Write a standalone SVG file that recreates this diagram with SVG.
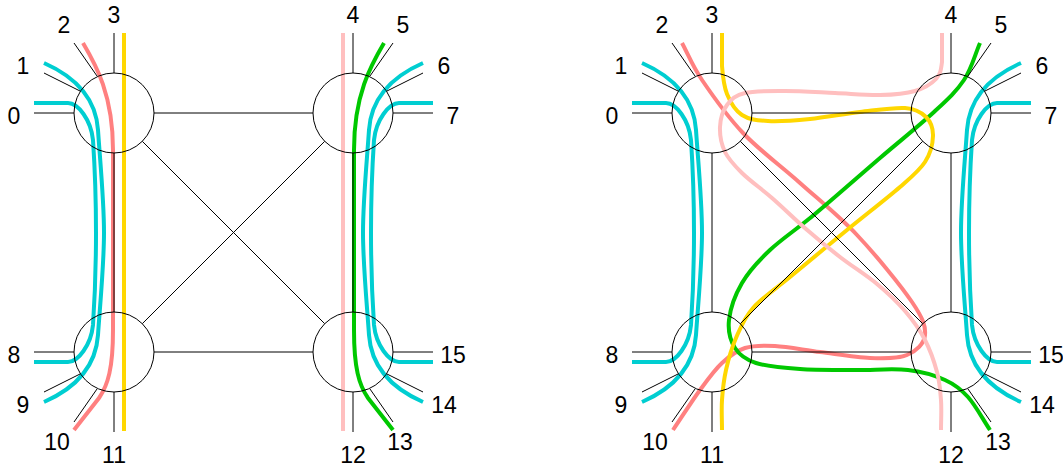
<svg xmlns="http://www.w3.org/2000/svg" width="1063" height="466" viewBox="0 0 1063 466">
<style>
.bg{fill:#fff}
.n circle{fill:none;stroke:#000;stroke-width:1}
.n path,.e{fill:none;stroke:#000;stroke-width:1}
.w{fill:none;stroke-width:4}
.cy{stroke:#00CED1}
.rd{stroke:#FF8080}
.pk{stroke:#FFBFBF}
.yl{stroke:#FFD700}
.gn{stroke:#00C800}
text{font-family:"Liberation Sans",Arial,sans-serif;font-size:23px;text-anchor:middle;fill:#000}
</style>
<defs>
<g id="cyanL">
<path class="w cy" d="M34,103 L68,103 C78,103 91,120 93,140 C95,170 96,200 96,232.5 C96,265 95,295 93,325 C91,345 78,362 68,362 L34,362"/>
<path class="w cy" d="M44,63 C78,78 96,100 98,130 C100,160 104,200 104,232.5 C104,265 100,305 98,335 C96,365 78,387 44,402"/>
<path class="w cy" d="M433,103 L399,103 C389,103 376,120 374,140 C372,170 371,200 371,232.5 C371,265 372,295 374,325 C376,345 389,362 399,362 L433,362"/>
<path class="w cy" d="M423,63 C389,78 371,100 369,130 C367,160 363,200 363,232.5 C363,265 367,305 369,335 C371,365 389,387 423,402"/>
</g>
<path id="edges" class="e" d="M154,113H313M154,352H313M114,153V312M353,153V312M142.3,141.3L324.7,323.7M324.7,141.3L142.3,323.7"/>
</defs>
<rect class="bg" width="1063" height="466"/>
<g id="connectors">
<g id="routes-left">
<use href="#cyanL"/>
<path class="w yl" d="M124,33 L124,431"/>
<path class="w pk" d="M343,33 L343,431"/>
<path class="w rd" d="M83,43 C96,65 113,95 113,150 L113,330 C113,368 108,385 99,398 L74,430"/>
<path class="w gn" d="M384,43 C371,65 354,95 354,150 L354,330 C354,368 359,385 368,398 L393,430"/>
</g>
<g id="routes-right">
<use href="#cyanL" transform="translate(598,0)"/>
<path class="w rd" d="M682,43 C688.7,55.3 691.8,65 702,80 C712.2,95 726.7,115.8 743,133 C759.3,150.2 781,166 800,183 C819,200 838.3,215.2 857,235 C875.7,254.8 900.7,285.3 912,302 C923.3,318.7 925.8,326.2 925,335 C924.2,343.8 916.2,351.2 907,355 C897.8,358.8 884.5,358.5 870,358 C855.5,357.5 835.8,354 820,352 C804.2,350 787.5,346.7 775,346 C762.5,345.3 753.8,345.2 745,348 C736.2,350.8 729.5,356 722,363 C714.5,370 708.2,378.8 700,390 C691.8,401.2 682,416.7 673,430"/>
<path class="w gn" d="M980,43 C974.7,55.3 971.7,68.5 964,80 C956.3,91.5 948,99 934,112 C920,125 899.8,141 880,158 C860.2,175 833.3,198.7 815,214 C796.7,229.3 782.2,238.5 770,250 C757.8,261.5 748.8,271.3 742,283 C735.2,294.7 730.2,309.2 729,320 C727.8,330.8 730.5,340.8 735,348 C739.5,355.2 745.2,359.5 756,363 C766.8,366.5 783.5,367.8 800,369 C816.5,370.2 837,369.8 855,370 C873,370.2 893,368.3 908,370 C923,371.7 935,375.5 945,380 C955,384.5 960.5,388.7 968,397 C975.5,405.3 982.7,419 990,430"/>
<path class="w yl" d="M722,33 C722,44 722,55.8 722,66 C722.8,76.2 723.7,85.8 727,94 C730.3,102.2 735.2,110.5 742,115 C748.8,119.5 756.7,120.3 768,121 C779.3,121.7 794.7,120.5 810,119 C825.3,117.5 844.2,113.8 860,112 C875.8,110.2 894,107.2 905,108 C916,108.8 921.3,112.3 926,117 C930.7,121.7 933.2,128.5 933,136 C932.8,143.5 930.5,153.5 925,162 C919.5,170.5 913,175.7 900,187 C887,198.3 865.3,215 847,230 C828.7,245 805.7,264 790,277 C774.3,290 762,297.8 753,308 C744,318.2 740.5,327.7 736,338 C731.5,348.3 728.3,359.7 726,370 C723.7,380.3 722.7,390 722,400 C721.3,410 722,420 722,430"/>
<path class="w pk" d="M942,33 C942,42.7 942,54 942,62 C941,69.7 940.5,74.2 936,79 C931.5,83.8 924.3,88.3 915,91 C905.7,93.7 893.3,94.7 880,95 C866.7,95.3 850.8,93.7 835,93 C819.2,92.3 800,91 785,91 C770,91 754.7,90.7 745,93 C735.3,95.3 731.2,99.3 727,105 C722.8,110.7 720.3,119.2 720,127 C719.7,134.8 721.3,144.3 725,152 C728.7,159.7 734.2,165.3 742,173 C749.8,180.7 761.3,188.7 772,198 C782.7,207.3 794.7,219.2 806,229 C817.3,238.8 828.2,247.8 840,257 C851.8,266.2 866.2,275 877,284 C887.8,293 897,301.7 905,311 C913,320.3 919.7,329.8 925,340 C930.3,350.2 934.3,362 937,372 C939.7,382 940.3,390.3 941,400 C941.7,409.7 941,420 941,430"/>
</g>
<g id="edges-left"><use href="#edges"/></g>
<g id="edges-right"><use href="#edges" transform="translate(598,0)"/></g>
</g>
<g id="L-A" class="n" transform="translate(114,113)">
<circle r="40"/>
<path d="M-80,0H-40M-70,-40L-34,-22M-40,-70L-17,-37M0,-80V-40"/>
<text x="-100" y="11">0</text><text x="-91" y="-39">1</text><text x="-50" y="-80">2</text><text x="0" y="-90">3</text>
</g>
<g id="L-B" class="n" transform="translate(353,113)">
<circle r="40"/>
<path d="M80,0H40M70,-40L34,-22M40,-70L17,-37M0,-80V-40"/>
<text x="0" y="-90">4</text><text x="50" y="-80">5</text><text x="91" y="-39">6</text><text x="100" y="11">7</text>
</g>
<g id="L-C" class="n" transform="translate(114,352)">
<circle r="40"/>
<path d="M-80,0H-40M-70,40L-34,22M-40,70L-17,37M0,80V40"/>
<text x="-100" y="11">8</text><text x="-91" y="61">9</text><text x="-57" y="98">10</text><text x="0" y="111">11</text>
</g>
<g id="L-D" class="n" transform="translate(353,352)">
<circle r="40"/>
<path d="M80,0H40M70,40L34,22M40,70L17,37M0,80V40"/>
<text x="0" y="111">12</text><text x="47" y="98">13</text><text x="91" y="61">14</text><text x="100" y="11">15</text>
</g>
<g id="R-A" class="n" transform="translate(712,113)">
<circle r="40"/>
<path d="M-80,0H-40M-70,-40L-34,-22M-40,-70L-17,-37M0,-80V-40"/>
<text x="-100" y="11">0</text><text x="-91" y="-39">1</text><text x="-50" y="-80">2</text><text x="0" y="-90">3</text>
</g>
<g id="R-B" class="n" transform="translate(951,113)">
<circle r="40"/>
<path d="M80,0H40M70,-40L34,-22M40,-70L17,-37M0,-80V-40"/>
<text x="0" y="-90">4</text><text x="50" y="-80">5</text><text x="91" y="-39">6</text><text x="100" y="11">7</text>
</g>
<g id="R-C" class="n" transform="translate(712,352)">
<circle r="40"/>
<path d="M-80,0H-40M-70,40L-34,22M-40,70L-17,37M0,80V40"/>
<text x="-100" y="11">8</text><text x="-91" y="61">9</text><text x="-57" y="98">10</text><text x="0" y="111">11</text>
</g>
<g id="R-D" class="n" transform="translate(951,352)">
<circle r="40"/>
<path d="M80,0H40M70,40L34,22M40,70L17,37M0,80V40"/>
<text x="0" y="111">12</text><text x="47" y="98">13</text><text x="91" y="61">14</text><text x="100" y="11">15</text>
</g>
</svg>
